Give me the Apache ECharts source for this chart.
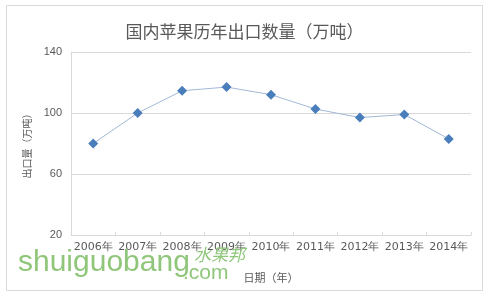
<!DOCTYPE html>
<html>
<head>
<meta charset="utf-8">
<script src="https://cdn.jsdelivr.net/npm/echarts@6/dist/echarts.min.js"></script>
<style>
  html, body { margin: 0; padding: 0; background: #fff; }
  #chart { width: 489px; height: 296px; }
</style>
</head>
<body>
<div id="chart"></div>
<script>
// data
const years = ['2006年', '2007年', '2008年', '2009年', '2010年', '2011年', '2012年', '2013年', '2014年'];
const exportVolume = [80, 100, 114.6, 117, 112, 102.6, 97, 99, 83];
const yTicks = { min: 20, max: 140, step: 40 };

let chart = echarts.init(document.getElementById('chart'), null, { renderer: 'canvas' });

const gray = '#595959';
const gridColor = '#d9d9d9';

chart.setOption({
    animation: false,
    title: {
        text: '国内苹果历年出口数量（万吨）',
        left: 'center',
        top: 18,
        textStyle: {
            fontFamily: 'Noto Sans CJK SC',
            fontSize: 17,
            fontWeight: 'normal',
            color: gray
        }
    },
    grid: {
        left: 71,
        right: 18,
        top: 52,
        bottom: 61
    },
    xAxis: {
        type: 'category',
        data: years,
        boundaryGap: true,
        name: '日期（年）',
        nameLocation: 'middle',
        nameGap: 37,
        nameTextStyle: {
            fontFamily: 'Noto Sans CJK SC',
            fontSize: 11,
            color: gray
        },
        axisLine: { lineStyle: { color: gridColor } },
        axisTick: { show: true, inside: true, length: 3, lineStyle: { color: gridColor } },
        axisLabel: {
            margin: 7,
            fontFamily: 'DejaVu Sans',
            fontSize: 11,
            color: gray,
            interval: 0
        }
    },
    yAxis: {
        type: 'value',
        min: yTicks.min,
        max: yTicks.max,
        interval: yTicks.step,
        name: '出口量（万吨）',
        nameLocation: 'middle',
        nameGap: 39,
        nameTextStyle: {
            fontFamily: 'Noto Sans CJK SC',
            fontSize: 10,
            color: gray
        },
        axisLine: { show: true, lineStyle: { color: gridColor } },
        axisTick: { show: false },
        axisLabel: {
            margin: 9,
            fontFamily: 'Liberation Sans',
            fontSize: 11,
            color: gray
        },
        splitLine: { show: true, lineStyle: { color: gridColor } }
    },
    series: [{
        name: '出口量',
        type: 'line',
        data: exportVolume,
        symbol: 'diamond',
        symbolSize: 10,
        itemStyle: { color: '#4a7ebb' },
        lineStyle: { color: '#a3b7d7', width: 1 }
    }],
    graphic: [
        {
            type: 'rect',
            shape: { x: 6.5, y: 5.5, width: 476, height: 285 },
            style: { fill: null, stroke: gridColor, lineWidth: 1 },
            z: -1
        },
        {
            type: 'text',
            x: 18,
            y: 263,
            style: {
                text: 'shuiguobang',
                font: '30px "Liberation Sans"',
                fill: '#8fc67a',
                verticalAlign: 'middle'
            },
            z: 100
        },
        {
            type: 'text',
            x: 183,
            y: 273,
            style: {
                text: '.com',
                font: '21px "Liberation Sans"',
                fill: '#8fc67a',
                verticalAlign: 'middle'
            },
            z: 100
        },
        {
            type: 'text',
            x: 194,
            y: 255,
            style: {
                text: '水果邦',
                font: 'italic 17px "Noto Sans CJK SC"',
                fill: '#8fc67a',
                verticalAlign: 'middle'
            },
            z: 100
        }
    ]
});
</script>
</body>
</html>
